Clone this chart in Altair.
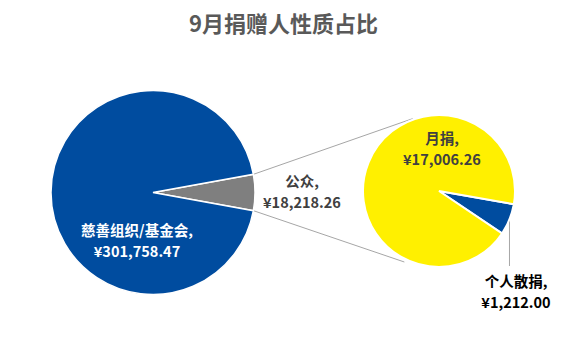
import math
import altair as alt
import pandas as pd

# ---------------- data ----------------
title_text = "9月捐赠人性质占比"
main_categories = ["公众", "慈善组织/基金会"]
main_values = [18218.26, 301758.47]
sub_categories = ["个人散捐", "月捐"]
sub_values = [1212.00, 17006.26]

# ---------------- layout / style ----------------
W, H = 567, 342
MAIN_C = (153, 192.5)
MAIN_R = 102
SUB_C = (439, 191)
SUB_R = 76
SUB_START_DEG = 100          # rotation of the secondary pie (degrees from 12 o'clock)
BLUE = "#004C9F"
GRAY = "#7F7F7F"
YELLOW = "#FFF000"
LINE_GRAY = "#A6A6A6"
FONT = "Noto Sans CJK SC"
LINE_H = 20.5

label_pos = {
    "慈善组织/基金会": (137, 232, "white"),
    "公众": (302, 183, "#404040"),
    "月捐": (442, 140, "#404040"),
    "个人散捐": (516, 283, "#000000"),
}


def fmt(v):
    return "¥{:,.2f}".format(v)


def pt(c, r, theta):
    return (c[0] + r * math.sin(theta), c[1] - r * math.cos(theta))


# main pie: grey slice centred on 3 o'clock
main_total = sum(main_values)
gray_frac = main_values[0] / main_total
main_start = math.pi / 2 - gray_frac * math.pi

sub_total = sum(sub_values)
sub_frac = sub_values[0] / sub_total
sub_start = math.radians(SUB_START_DEG)

df_main = pd.DataFrame({"cat": main_categories, "value": main_values, "ord": [0, 1]})
df_sub = pd.DataFrame({"scat": sub_categories, "svalue": sub_values, "ord": [0, 1]})

main_arc = alt.Chart(df_main).mark_arc(radius=MAIN_R, stroke="white", strokeWidth=1.5).encode(
    theta=alt.Theta("value:Q", stack=True,
                    scale=alt.Scale(range=[main_start, main_start + 2 * math.pi])),
    color=alt.Color("cat:N", scale=alt.Scale(domain=main_categories, range=[GRAY, BLUE]), legend=None),
    order=alt.Order("ord:Q"),
    x=alt.value(MAIN_C[0]),
    y=alt.value(MAIN_C[1]),
)

sub_arc = alt.Chart(df_sub).mark_arc(radius=SUB_R, stroke="white", strokeWidth=2).encode(
    theta=alt.Theta("svalue:Q", stack=True,
                    scale=alt.Scale(range=[sub_start, sub_start + 2 * math.pi])),
    color=alt.Color("scat:N", scale=alt.Scale(domain=sub_categories, range=[BLUE, YELLOW]), legend=None),
    order=alt.Order("ord:Q"),
    x=alt.value(SUB_C[0]),
    y=alt.value(SUB_C[1]),
)

# connector lines (from the grey slice edges to the secondary pie)
p1 = pt(MAIN_C, MAIN_R, main_start)
p2 = pt(MAIN_C, MAIN_R, main_start + gray_frac * 2 * math.pi)
q1 = pt(SUB_C, SUB_R + 1, math.radians(-20))
q2 = pt(SUB_C, SUB_R + 3, math.radians(206))
sub_mid = sub_start + sub_frac * math.pi
l1 = pt(SUB_C, SUB_R, sub_mid)
lead_end_y = label_pos["个人散捐"][1] - 17

df_lines = pd.DataFrame({
    "x": [p1[0], p2[0], l1[0]],
    "y": [p1[1], p2[1], l1[1]],
    "x2": [q1[0], q2[0], l1[0]],
    "y2": [q1[1], q2[1], lead_end_y],
})
lines = alt.Chart(df_lines).mark_rule(color=LINE_GRAY, strokeWidth=1).encode(
    x=alt.X("x:Q", scale=None, axis=None),
    y=alt.Y("y:Q", scale=None, axis=None),
    x2="x2:Q",
    y2="y2:Q",
)

# labels
rows = []
for cats, vals in ((main_categories, main_values), (sub_categories, sub_values)):
    for c, v in zip(cats, vals):
        x, y, col = label_pos[c]
        rows.append({"t": c + ",", "x": x, "y": y, "col": col})
        rows.append({"t": fmt(v), "x": x, "y": y + LINE_H, "col": col})
df_lab = pd.DataFrame(rows)
labels = alt.Chart(df_lab).mark_text(font=FONT, fontSize=14.5, fontWeight="bold", baseline="middle", align="center").encode(
    x=alt.X("x:Q", scale=None, axis=None),
    y=alt.Y("y:Q", scale=None, axis=None),
    text="t:N",
    color=alt.Color("col:N", scale=None, legend=None),
)

df_title = pd.DataFrame({"t": [title_text], "x": [W / 2], "y": [25]})
title = alt.Chart(df_title).mark_text(font=FONT, fontSize=22, fontWeight="bold", color="#595959",
                                      baseline="middle", align="center").encode(
    x=alt.X("x:Q", scale=None, axis=None),
    y=alt.Y("y:Q", scale=None, axis=None),
    text="t:N",
)

chart = alt.layer(lines, main_arc, sub_arc, labels, title).resolve_scale(
    theta="independent", color="independent"
).properties(
    width=W, height=H, padding=0, autosize="none", background="white"
).configure_view(stroke=None)

chart.save("out.html", embed_options={"renderer": "svg", "actions": False})
